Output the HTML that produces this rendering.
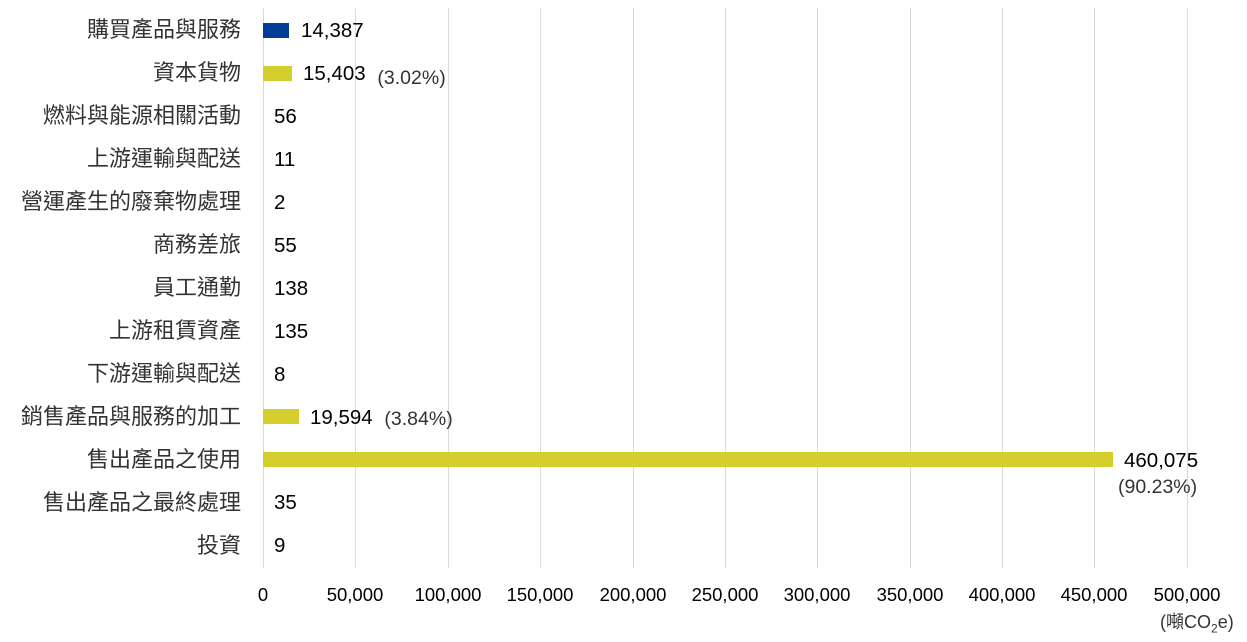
<!DOCTYPE html><html><head><meta charset="utf-8"><style>
body{margin:0;width:1247px;height:642px;background:#fff;font-family:"Liberation Sans","Noto Sans CJK TC",sans-serif;position:relative;overflow:hidden}
.g{position:absolute;top:8px;height:560px;width:1px;background:#d9d9d9}
.l{position:absolute;right:1006px;font-size:22px;color:#333;white-space:nowrap;line-height:24px}
.b{position:absolute;left:263px;height:15px}
.v{position:absolute;font-size:20.5px;color:#000;line-height:22px;white-space:nowrap}
.p{color:#333;font-size:19.5px}
.t{position:absolute;top:584px;font-size:18.5px;color:#000;transform:translateX(-50%);line-height:22px}
</style></head><body>
<div class="g" style="left:263px"></div><div class="g" style="left:355px"></div><div class="g" style="left:448px"></div><div class="g" style="left:540px"></div><div class="g" style="left:633px"></div><div class="g" style="left:725px"></div><div class="g" style="left:817px"></div><div class="g" style="left:910px"></div><div class="g" style="left:1002px"></div><div class="g" style="left:1094px"></div><div class="g" style="left:1187px"></div>

<div class="l" style="top:18px">購買產品與服務</div>
<div class="l" style="top:61px">資本貨物</div>
<div class="l" style="top:104px">燃料與能源相關活動</div>
<div class="l" style="top:147px">上游運輸與配送</div>
<div class="l" style="top:190px">營運產生的廢棄物處理</div>
<div class="l" style="top:233px">商務差旅</div>
<div class="l" style="top:276px">員工通勤</div>
<div class="l" style="top:319px">上游租賃資產</div>
<div class="l" style="top:362px">下游運輸與配送</div>
<div class="l" style="top:405px">銷售產品與服務的加工</div>
<div class="l" style="top:448px">售出產品之使用</div>
<div class="l" style="top:491px">售出產品之最終處理</div>
<div class="l" style="top:534px">投資</div>

<div class="b" style="top:23px;width:26px;background:#003f98"></div>
<div class="b" style="top:66px;width:29px;background:#d4cf2e"></div>
<div class="b" style="top:409px;width:36px;background:#d4cf2e"></div>
<div class="b" style="top:452px;width:850px;background:#d4cf2e"></div>

<div class="v" style="left:301px;top:20px">14,387</div>
<div class="v" style="left:303px;top:63px">15,403 <span class="p" style="margin-left:6px;position:relative;top:4px">(3.02%)</span></div>
<div class="v" style="left:274px;top:106px">56</div>
<div class="v" style="left:274px;top:149px">11</div>
<div class="v" style="left:274px;top:192px">2</div>
<div class="v" style="left:274px;top:235px">55</div>
<div class="v" style="left:274px;top:278px">138</div>
<div class="v" style="left:274px;top:321px">135</div>
<div class="v" style="left:274px;top:364px">8</div>
<div class="v" style="left:310px;top:407px">19,594 <span class="p" style="margin-left:6px;position:relative;top:1px">(3.84%)</span></div>
<div class="v" style="left:1124px;top:450px">460,075</div>
<div class="v p" style="left:1118px;top:476px">(90.23%)</div>
<div class="v" style="left:274px;top:492px">35</div>
<div class="v" style="left:274px;top:535px">9</div>

<div class="t" style="left:263px">0</div><div class="t" style="left:355px">50,000</div><div class="t" style="left:448px">100,000</div><div class="t" style="left:540px">150,000</div><div class="t" style="left:633px">200,000</div><div class="t" style="left:725px">250,000</div><div class="t" style="left:817px">300,000</div><div class="t" style="left:910px">350,000</div><div class="t" style="left:1002px">400,000</div><div class="t" style="left:1094px">450,000</div><div class="t" style="left:1187px">500,000</div>
<div style="position:absolute;left:1160px;top:612px;font-size:18px;color:#333;line-height:20px;white-space:nowrap">(噸CO<sub style="font-size:12px">2</sub>e)</div>
</body></html>
